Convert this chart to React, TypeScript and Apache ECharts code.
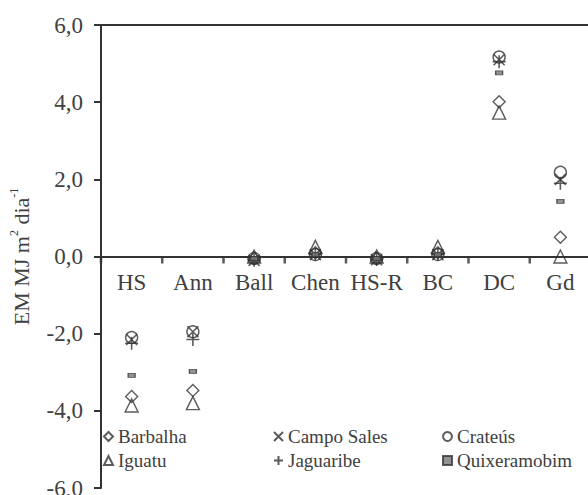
import React, { useEffect, useRef } from "react";
import * as echarts from "echarts";

const categories = ["HS", "Ann", "Ball", "Chen", "HS-R", "BC", "DC", "Gd"];
const barbalha = [-3.63, -3.47, -0.05, 0.1, -0.05, 0.1, 4.01, 0.5];
const campoSales = [-2.15, -1.95, -0.1, 0.05, -0.08, 0.05, 5.1, 2.0];
const crateus = [-2.1, -1.95, -0.05, 0.05, -0.05, 0.05, 5.17, 2.18];
const iguatu = [-3.86, -3.8, 0.0, 0.25, 0.0, 0.25, 3.73, 0.0];
const jaguaribe = [-2.25, -2.15, -0.1, 0.05, -0.08, 0.05, 5.05, 1.9];
const quixeramobim = [-3.08, -2.98, -0.05, 0.05, -0.05, 0.05, 4.76, 1.43];

const FONT = "'Liberation Serif', 'Times New Roman', serif";
const INK = "#333333";
const TXT = "#404040";

const CROSS = "path://M0,0L10,10M10,0L0,10";
const PLUS = "path://M5,0L5,10M0,5L10,5";

const W = 588;
const H = 495;
const GRID_LEFT = 101;
const GRID_RIGHT = -3;
const GRID_TOP = 25;
const GRID_BOTTOM = 7;

export default function App() {
  const ref = useRef<HTMLDivElement>(null);
  useEffect(() => {
    if (!ref.current) return;
    const chart = echarts.init(ref.current, undefined, { renderer: "svg" });
    const hollow = { color: "transparent", borderColor: INK, borderWidth: 1.4 };
    const mk = (name: string, data: number[], symbol: string, size: any, style: any) => ({
      name,
      type: "scatter",
      data,
      symbol,
      symbolSize: size,
      itemStyle: style,
      emphasis: { disabled: true },
      z: 3,
    });
    const legendBase = {
      orient: "vertical",
      top: 427,
      padding: 0,
      itemGap: 5,
      itemWidth: 9,
      itemHeight: 9,
      textStyle: { fontFamily: FONT, fontSize: 19, color: TXT },
      selectedMode: false,
    };
    const plotH = H - GRID_TOP - GRID_BOTTOM;
    const plotW = W - GRID_LEFT - GRID_RIGHT;
    const band = plotW / categories.length;
    const zeroOffset = -(plotH / 2);
    chart.setOption({
      animation: false,
      textStyle: { fontFamily: FONT },
      grid: {
        left: GRID_LEFT,
        top: GRID_TOP,
        bottom: GRID_BOTTOM,
        right: GRID_RIGHT,
        containLabel: false,
        outerBoundsMode: "none",
      },
      xAxis: [
        {
          type: "category",
          data: categories,
          boundaryGap: true,
          position: "bottom",
          offset: zeroOffset,
          axisLine: { onZero: false, lineStyle: { color: INK, width: 2 } },
          axisTick: { show: false },
          axisLabel: { interval: 0, fontFamily: FONT, fontSize: 23, color: TXT, margin: 14 },
          splitLine: { show: false },
        },
        {
          type: "category",
          data: categories,
          position: "top",
          axisLine: { onZero: false, lineStyle: { color: INK, width: 2 } },
          axisTick: { show: false },
          axisLabel: { show: false },
          splitLine: { show: false },
        },
      ],
      yAxis: {
        type: "value",
        min: -6,
        max: 6,
        interval: 2,
        axisLine: { show: true, onZero: false, lineStyle: { color: INK, width: 2 } },
        axisTick: { show: true, length: 7, lineStyle: { color: INK, width: 2 } },
        axisLabel: {
          fontFamily: FONT,
          fontSize: 23,
          color: TXT,
          margin: 18,
          formatter: (v: number) => v.toFixed(1).replace(".", ","),
        },
        splitLine: { show: false },
        name: "{a|EM MJ m}{s|2}{a| dia}{s|-1}",
        nameLocation: "middle",
        nameGap: 67,
        nameTextStyle: {
          fontFamily: FONT,
          color: TXT,
          rich: {
            a: { fontFamily: FONT, fontSize: 22, color: TXT, lineHeight: 26 },
            s: { fontFamily: FONT, fontSize: 12, color: TXT, lineHeight: 26, verticalAlign: "top" },
          },
        },
      },
      legend: [
        { ...legendBase, left: 103, data: [{ name: "Barbalha", icon: "diamond" }, { name: "Iguatu", icon: "triangle" }] },
        { ...legendBase, left: 273, data: [{ name: "Campo Sales", icon: CROSS }, { name: "Jaguaribe", icon: PLUS }] },
        { ...legendBase, left: 442, data: [{ name: "Crateús", icon: "circle" }, { name: "Quixeramobim", icon: "rect" }] },
      ],
      series: [
        {
          type: "scatter",
          name: "ticks",
          silent: true,
          data: categories.map(() => 0),
          symbol: "rect",
          symbolSize: [2.5, 7],
          symbolOffset: [-band / 2, 3.5],
          itemStyle: { color: INK },
          z: 2,
        },
        mk("Barbalha", barbalha, "diamond", 12, hollow),
        mk("Campo Sales", campoSales, CROSS, 11, { color: "transparent", borderColor: INK, borderWidth: 1.6 }),
        mk("Crateús", crateus, "circle", 12, hollow),
        mk("Iguatu", iguatu, "triangle", 13, hollow),
        mk("Jaguaribe", jaguaribe, PLUS, 13, { color: "transparent", borderColor: INK, borderWidth: 1.6 }),
        mk("Quixeramobim", quixeramobim, "rect", [7, 4], { color: "#777", borderColor: INK, borderWidth: 1 }),
      ],
    });
    return () => chart.dispose();
  }, []);
  return (
    <div
      ref={ref}
      style={{ position: "absolute", left: 0, top: 0, width: W, height: H, background: "#fff" }}
    />
  );
}
